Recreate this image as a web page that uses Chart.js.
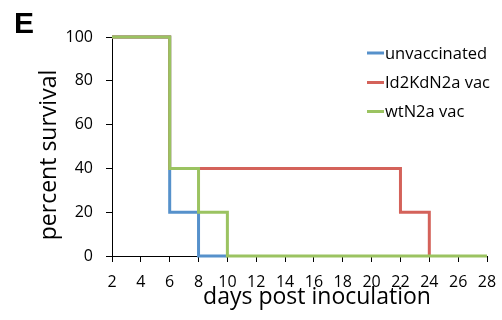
<!DOCTYPE html>
<html>
<head>
<meta charset="utf-8">
<script src="https://cdn.jsdelivr.net/npm/chart.js@4"></script>
<style>
  html, body { margin: 0; padding: 0; background: #fff; }
  #wrap { width: 502px; height: 320px; position: relative; }
</style>
</head>
<body>
<div id="wrap"><canvas id="myChart" width="502" height="320"></canvas></div>
<script>
// survival data (step curves)
const seriesNames = ['unvaccinated', 'Id2KdN2a vac', 'wtN2a vac'];
const seriesColors = ['#5691cb', '#d4625a', '#9bc361'];

const unvacDays = [2, 6, 8, 10];
const unvacSurvival = [100, 20, 0, 0];

const id2kdDays = [2, 6, 22, 24];
const id2kdSurvival = [100, 40, 20, 0];

const wtDays = [2, 6, 8, 10, 28];
const wtSurvival = [100, 40, 20, 0, 0];

const xTicks = [2, 4, 6, 8, 10, 12, 14, 16, 18, 20, 22, 24, 26, 28];
const yTicks = [0, 20, 40, 60, 80, 100];

const xTitle = 'days post inoculation';
const yTitle = 'percent survival';

const FONT = '"Open Sans", "Liberation Sans", sans-serif';

function toPoints(days, vals) {
  return days.map((d, i) => ({x: d, y: vals[i]}));
}

const allDays = [unvacDays, id2kdDays, wtDays];
const allVals = [unvacSurvival, id2kdSurvival, wtSurvival];

// green drawn on top, then red, then blue
const datasets = seriesNames.map((name, i) => ({
  label: name,
  data: toPoints(allDays[i], allVals[i]),
  borderColor: seriesColors[i],
  backgroundColor: seriesColors[i],
  borderWidth: 3,
  pointRadius: 0,
  stepped: 'before',
  fill: false,
  clip: false,
  order: 3 - i
}));

// panel letter, axis titles and legend
const extras = {
  id: 'extras',
  afterDraw(chart) {
    const ctx = chart.ctx;
    ctx.save();
    ctx.fillStyle = '#000';
    ctx.font = 'bold 30px "Liberation Sans", Arial, sans-serif';
    ctx.textBaseline = 'alphabetic';
    ctx.textAlign = 'left';
    ctx.fillText('E', 14, 33);

    // axis titles (the original sits a bit off the plot centre)
    ctx.font = '23px ' + FONT;
    ctx.textAlign = 'center';
    ctx.textBaseline = 'middle';
    ctx.fillText(xTitle, 317, 297);
    ctx.save();
    ctx.translate(49, 155);
    ctx.rotate(-Math.PI / 2);
    ctx.fillText(yTitle, 0, 0);
    ctx.restore();

    ctx.font = '16.5px ' + FONT;
    ctx.textAlign = 'left';
    const rowY = [53, 82.5, 111.5];
    seriesNames.forEach((name, i) => {
      ctx.strokeStyle = seriesColors[i];
      ctx.lineWidth = 3;
      ctx.beginPath();
      ctx.moveTo(367, rowY[i]);
      ctx.lineTo(384, rowY[i]);
      ctx.stroke();
      ctx.fillStyle = '#000';
      ctx.fillText(name, 385, rowY[i] + 1);
    });
    ctx.restore();
  }
};

const myChart = document.getElementById('myChart');

let survivalChart = new Chart(myChart, {
  type: 'line',
  data: { datasets: datasets },
  options: {
    responsive: false,
    animation: false,
    layout: { padding: { left: 0, right: 15, top: 37, bottom: 0 } },
    plugins: {
      legend: { display: false },
      tooltip: { enabled: false }
    },
    scales: {
      x: {
        type: 'linear',
        min: 2,
        max: 28,
        afterBuildTicks: (scale) => { scale.ticks = xTicks.map(v => ({value: v})); },
        afterFit: (scale) => {
          scale.height = 64;
          // let the last label hang over the right margin like the original
          scale.paddingLeft = 0;
          scale.paddingRight = 0;
        },
        grid: { drawOnChartArea: false, drawTicks: true, tickLength: 6, color: '#000' },
        border: { color: '#000', width: 1 },
        ticks: { color: '#000', padding: 11, maxRotation: 0, autoSkip: false, font: { family: FONT, size: 16 } },
        title: { display: false }
      },
      y: {
        min: 0,
        max: 100,
        afterBuildTicks: (scale) => { scale.ticks = yTicks.map(v => ({value: v})); },
        afterFit: (scale) => { scale.width = 112; },
        grid: { drawOnChartArea: false, drawTicks: true, tickLength: 6, color: '#000' },
        border: { color: '#000', width: 1 },
        ticks: { color: '#000', padding: 13, font: { family: FONT, size: 16 } },
        title: { display: false }
      }
    }
  },
  plugins: [extras]
});
</script>
</body>
</html>
